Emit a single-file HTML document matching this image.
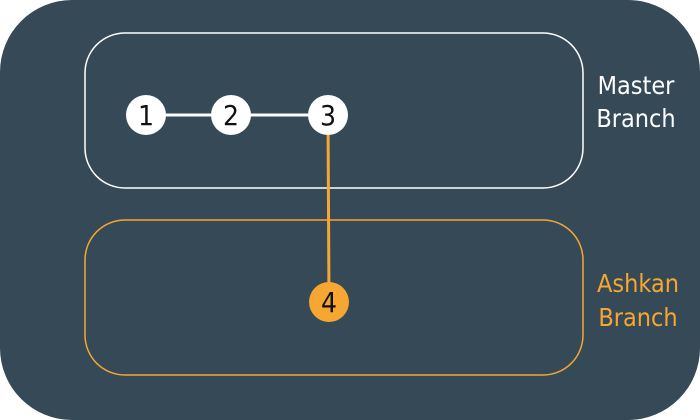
<!DOCTYPE html>
<html><head><meta charset="utf-8"><style>
html,body{margin:0;padding:0;background:#fff;width:700px;height:420px;overflow:hidden}
svg{display:block}
text{font-family:"DejaVu Sans Condensed","DejaVu Sans","Liberation Sans",sans-serif;font-stretch:condensed}
</style></head><body>
<svg width="700" height="420" viewBox="0 0 700 420">
<rect x="0" y="0" width="700" height="420" rx="72" ry="72" fill="#364956"/>
<rect x="85" y="33" width="498" height="155" rx="40" ry="40" fill="none" stroke="#ffffff" stroke-width="1.5"/>
<rect x="85" y="220" width="498" height="155" rx="40" ry="40" fill="none" stroke="#f5a732" stroke-width="1.5"/>
<text x="636" y="94" font-size="25" fill="#ffffff" text-anchor="middle">Master</text>
<text x="636" y="127" font-size="25" fill="#ffffff" text-anchor="middle">Branch</text>
<text x="638" y="292" font-size="25" fill="#f5a732" text-anchor="middle">Ashkan</text>
<text x="638" y="326" font-size="25" fill="#f5a732" text-anchor="middle">Branch</text>
<g id="links"></g>
<g id="nodes"></g>
</svg>
<script>
const commitIds = ["1","2","3","4"];
const commitX = [146,231,328,329];
const commitY = [115,115,115,302];
const commitBranch = ["master","master","master","ashkan"];
const linkFrom = [0,1,2];
const linkTo = [1,2,3];
const NS="http://www.w3.org/2000/svg";
const links=document.getElementById('links'), nodes=document.getElementById('nodes');
const col=b=>b==="master"?"#ffffff":"#f5a732";
for(let i=0;i<linkFrom.length;i++){
  const a=linkFrom[i],b=linkTo[i];
  const l=document.createElementNS(NS,'line');
  l.setAttribute('x1',commitX[a]);l.setAttribute('y1',commitY[a]);
  l.setAttribute('x2',commitX[b]);l.setAttribute('y2',commitY[b]);
  l.setAttribute('stroke',col(commitBranch[b]));l.setAttribute('stroke-width','3');
  
  
  links.appendChild(l);
}
for(let i=0;i<commitIds.length;i++){
  const c=document.createElementNS(NS,'circle');
  c.setAttribute('cx',commitX[i]);c.setAttribute('cy',commitY[i]);c.setAttribute('r','20');
  c.setAttribute('fill',col(commitBranch[i]));
  
  
  nodes.appendChild(c);
  const t=document.createElementNS(NS,'text');
  t.setAttribute('x',commitX[i]);t.setAttribute('y',commitY[i]+10);
  t.setAttribute('text-anchor','middle');t.setAttribute('font-size','28');t.setAttribute('fill','#111111');
  t.textContent=commitIds[i];
  
  
  nodes.appendChild(t);
}
</script>
</body></html>
